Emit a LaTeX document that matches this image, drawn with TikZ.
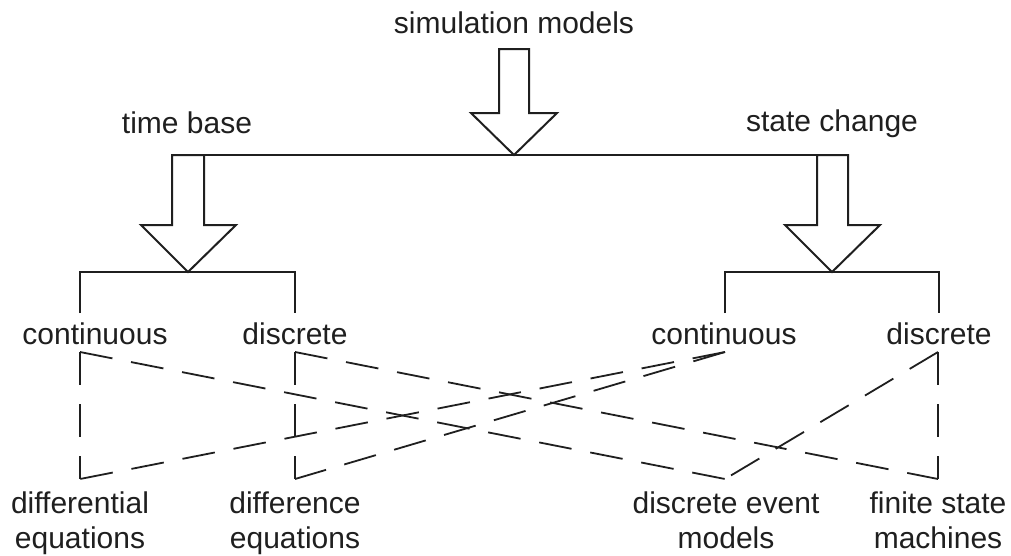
\documentclass[tikz,border=0pt]{standalone}
\usepackage{fontspec}
\setmainfont{Liberation Sans}
\begin{document}
\begin{tikzpicture}[x=1pt,y=-1pt,
  lbl/.style={font=\fontsize{30pt}{35pt}\selectfont, inner sep=0pt, anchor=base, align=center, text=black!88},
  rule/.style={line width=2pt, draw=black!88},
  hollow/.style={line width=2pt, draw=black!88, fill=white, line join=miter},
  dashline/.style={line width=1.8pt, draw=black!88, dash pattern=on 33pt off 19pt}]
\useasboundingbox (0,0) rectangle (1011,555);
\fill[white] (0,0) rectangle (1011,555);

% headings
\node[lbl] (sim) at (514,33) {simulation models};
\node[lbl] (tb)  at (187,133) {time base};
\node[lbl] (sc)  at (832,131) {state change};

% classes
\node[lbl] (tcont) at (95,344)  {continuous};
\node[lbl] (tdisc) at (295,344) {discrete};
\node[lbl] (scont) at (724,344) {continuous};
\node[lbl] (sdisc) at (939,344) {discrete};

% model families (base anchor sits on the last line)
\node[lbl] (diffeq) at (80,548)  {differential\\equations};
\node[lbl] (dcheq)  at (295,548) {difference\\equations};
\node[lbl] (dev)    at (726,548) {discrete event\\models};
\node[lbl] (fsm)    at (938,548) {finite state\\machines};

% main split line
\coordinate (hl) at (172,155);
\coordinate (hr) at (848,155);
\draw[rule] (hl) -- (hr);

% hollow arrows
\draw[hollow] (499,49) -- (529,49) -- (529,113) -- (557,113) -- (514,155)
  -- (471,113) -- (499,113) -- cycle;
\draw[hollow] (172,155) -- (204,155) -- (204,225) -- (236,225) -- (188,272)
  -- (141,225) -- (172,225) -- cycle;
\draw[hollow] (817,155) -- (848,155) -- (848,225) -- (880,225) -- (832,272)
  -- (785,225) -- (817,225) -- cycle;

% brackets
\draw[rule, line join=miter] (80,313) -- (80,272) -- (295,272) -- (295,313);
\draw[rule, line join=miter] (725,313) -- (725,272) -- (939,272) -- (939,313);

% dashed connector end points
\coordinate (ct1) at (80,352);  \coordinate (cb1) at (80,479);
\coordinate (ct2) at (295,352); \coordinate (cb2) at (295,479);
\coordinate (ct3) at (725,352); \coordinate (cb3) at (725,479);
\coordinate (ct4) at (938,352); \coordinate (cb4) at (938,479);

% dashed connectors
\draw[dashline] (ct1) -- (cb1);
\draw[dashline] (ct1) -- (cb3);
\draw[dashline] (ct2) -- (cb2);
\draw[dashline] (ct2) -- (cb4);
\draw[dashline] (ct3) -- (cb1);
\draw[dashline] (ct3) -- (cb2);
\draw[dashline] (ct4) -- (cb3);
\draw[dashline] (ct4) -- (cb4);
\end{tikzpicture}
\end{document}
